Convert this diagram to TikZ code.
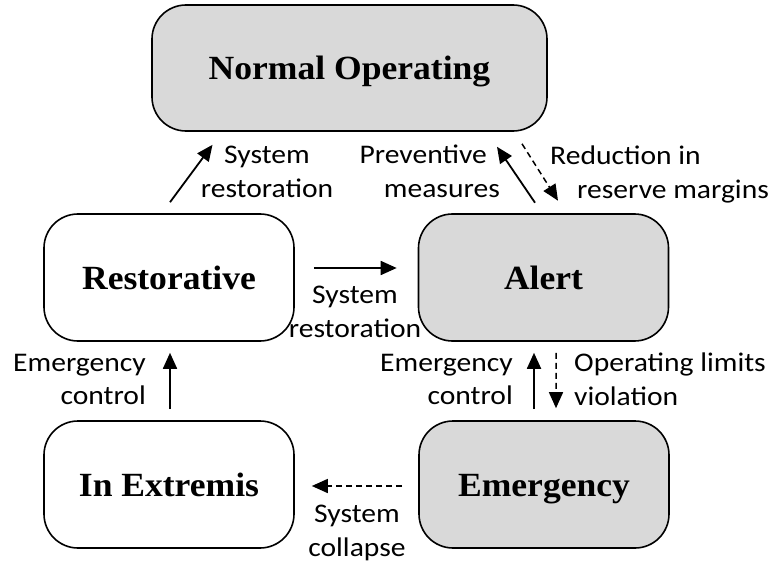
\documentclass[tikz,border=0pt]{standalone}
\usepackage{fontspec}
\setmainfont[FakeStretch=1.05]{Liberation Serif}
\newfontfamily\labfont[FakeStretch=1.1]{Carlito}
\usetikzlibrary{arrows.meta,calc}
\definecolor{boxgrey}{HTML}{D9D9D9}
\begin{document}
\begin{tikzpicture}[x=1bp,y=-1bp,
  state/.style={draw=black, line width=1.6bp, rounded corners=34bp,
    minimum width=250bp, minimum height=127bp,
    font=\fontsize{34}{40}\selectfont\bfseries,
    text height=23bp, text depth=0bp, inner sep=0pt},
  lab/.style={font=\labfont\fontsize{27}{34}\selectfont, inner sep=0pt},
  arr/.style={line width=1.8bp, -{Triangle[length=16bp,width=14bp]}},
  darr/.style={arr, line width=1.5bp, dash pattern=on 6bp off 4bp}]
\useasboundingbox (0,0) rectangle (769,565);
% states
\node[state, fill=boxgrey, minimum width=395bp, minimum height=126bp] (normal) at (349.5,68) {Normal Operating};
\node[state] (rest) at (169,277.5) {Restorative};
\node[state, fill=boxgrey] (alert) at (543.5,277.5) {Alert};
\node[state] (extr) at (169,484.5) {In Extremis};
\node[state, fill=boxgrey] (emer) at (544,484.5) {Emergency};
% connector end points
\coordinate (a1s) at ($(rest.north)+(1,-11)$);
\coordinate (a1e) at ($(normal.south)+(-137,13)$);
\coordinate (a2s) at ($(rest.east)+(19,-9.5)$);
\coordinate (a2e) at ($(alert.west)+(-21,-9.5)$);
\coordinate (a3s) at ($(alert.north)+(-8.5,-10.5)$);
\coordinate (a3e) at ($(normal.south)+(147.5,15)$);
\coordinate (a4s) at ($(normal.south)+(172.5,12)$);
\coordinate (a4e) at ($(alert.north)+(14.5,-12.5)$);
\coordinate (a5s) at ($(extr.north)+(1,-11)$);
\coordinate (a5e) at ($(rest.south)+(1,11)$);
\coordinate (a6s) at ($(emer.north)+(-10,-11)$);
\coordinate (a6e) at ($(alert.south)+(-9.5,11)$);
\coordinate (a7s) at ($(alert.south)+(12.5,11)$);
\coordinate (a7e) at ($(emer.north)+(12,-12)$);
\coordinate (a8s) at ($(emer.west)+(-16,1.5)$);
\coordinate (a8e) at ($(extr.east)+(17,1.5)$);
% connectors
\draw[arr] (a1s) -- (a1e);
\draw[arr] (a2s) -- (a2e);
\draw[arr] (a3s) -- (a3e);
\draw[darr] (a4s) -- (a4e);
\draw[arr] (a5s) -- (a5e);
\draw[arr] (a6s) -- (a6e);
\draw[darr] (a7s) -- (a7e);
\draw[darr] (a8s) -- (a8e);
% labels
\node[lab, align=center] (l1) at (267,171.5) {System\\restoration};
\node[lab, align=center] (l2) at (355,311.5) {System\\restoration};
\node[lab, align=right, anchor=east] (l3) at (500,171.5) {Preventive\hspace*{13bp}\\measures};
\node[lab, align=left, anchor=west] (l4) at (550,174.5) {Reduction in\\\hspace*{27bp}reserve margins};
\node[lab, align=right, anchor=east] (l5) at (146,379.5) {Emergency\\control};
\node[lab, align=right, anchor=east] (l6) at (513,379.5) {Emergency\\control};
\node[lab, align=left, anchor=west] (l7) at (574,379.5) {Operating limits\\violation};
\node[lab, align=center] (l8) at (357,533) {System\\collapse};
\end{tikzpicture}
\end{document}
